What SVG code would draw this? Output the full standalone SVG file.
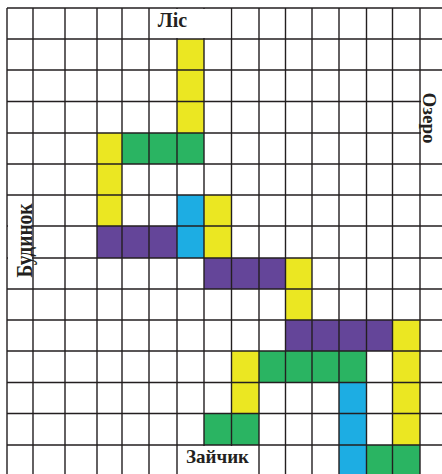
<svg xmlns="http://www.w3.org/2000/svg" width="442" height="474" viewBox="0 0 442 474">
<style>
.y{fill:#ebe722}.g{fill:#2ab462}.b{fill:#1dade3}.p{fill:#644599}
.gl{stroke:#231f20;stroke-width:1.4;fill:none}
.bg{fill:#ffffff}
.t{font-family:"Liberation Serif","Times New Roman",serif;font-weight:bold;fill:#231f20}
</style>
<rect width="442" height="474" fill="#ffffff"/>
<g id="cells">
<rect class="y" x="177" y="39" width="27" height="94"/>
<rect class="y" x="97" y="133" width="25" height="93"/>
<rect class="y" x="204" y="195" width="27.5" height="63"/>
<rect class="y" x="285.5" y="258" width="26.5" height="62"/>
<rect class="y" x="392.5" y="320" width="27.5" height="125"/>
<rect class="y" x="231.5" y="351" width="27.5" height="62.5"/>
<rect class="g" x="122" y="133" width="82" height="31"/>
<rect class="g" x="259" y="351" width="107.5" height="31.5"/>
<rect class="g" x="204" y="413.5" width="55" height="31.5"/>
<rect class="g" x="366.5" y="445" width="53.5" height="29"/>
<rect class="b" x="177" y="195" width="27" height="63"/>
<rect class="b" x="339" y="382.5" width="27.5" height="91.5"/>
<rect class="p" x="97" y="226" width="80" height="32"/>
<rect class="p" x="204" y="258" width="81.5" height="31"/>
<rect class="p" x="285.5" y="320" width="107" height="31"/>
</g>
<g id="grid" class="gl">
<path d="M7 8V474M33 8V474M65 8V474M97 8V474M122 8V474M149 8V474M177 8V474M204 8V474M231.5 8V474M259 8V474M285.5 8V474M312 8V474M339 8V474M366.5 8V474M392.5 8V474M420 8V474"/>
<path d="M7 8H442M7 39H442M7 70H442M7 101.5H442M7 133H442M7 164H442M7 195H442M7 226H442M7 258H442M7 289H442M7 320H442M7 351H442M7 382.5H442M7 413.5H442M7 445H442"/>
</g>
<g id="label-lis">
<rect class="bg" x="150" y="9" width="80.5" height="29"/>
<text class="t" x="172.5" y="27" font-size="20" text-anchor="middle">Ліс</text>
</g>
<g id="label-ozero">
<rect class="bg" x="421" y="71" width="21" height="92"/>
<text class="t" transform="translate(422.5,118) rotate(90)" font-size="19" text-anchor="middle">Озеро</text>
</g>
<g id="label-budynok">
<rect class="bg" x="8" y="196" width="24" height="92"/>
<text class="t" transform="translate(32.3,240.5) rotate(-90)" font-size="23" text-anchor="middle" textLength="74" lengthAdjust="spacingAndGlyphs">Будинок</text>
</g>
<g id="label-zaichyk">
<rect class="bg" x="178" y="446" width="80" height="28"/>
<text class="t" x="217.5" y="463" font-size="19" text-anchor="middle">Зайчик</text>
</g>
</svg>
